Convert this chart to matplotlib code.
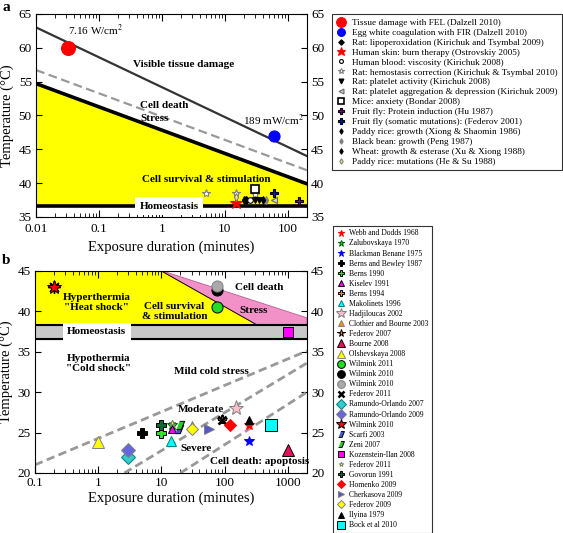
import numpy as np
import matplotlib
matplotlib.use("Agg")
import matplotlib.pyplot as plt

plt.rcParams['font.family'] = ['Liberation Serif', 'DejaVu Serif']
plt.rcParams['mathtext.fontset'] = 'stix'

# ---------------- panel a data ----------------
a_line_damage_x = [0.01, 200]
a_line_damage_y = [63.0, 44.0]
a_line_stress_x = [0.01, 200]
a_line_stress_y = [56.7, 41.9]
a_line_survival_x = [0.01, 200]
a_line_survival_y = [54.7, 39.9]
a_homeo = 36.6

# (label, x, y, marker, face, edge, size)
a_points = [
    ("Tissue damage with FEL (Dalzell 2010)", [0.032], [60.0], 'o', 'red', 'red', 10),
    ("Egg white coagulation with FIR (Dalzell 2010)", [60], [47.0], 'o', 'blue', 'blue', 8),
    ("Rat: lipoperoxidation (Kirichuk and Tsymbal 2009)", [22], [37.5], 'D', 'black', 'black', 4),
    ("Human skin: burn therapy (Ostrovskiy 2005)", [15], [37.0], '*', 'red', 'red', 9),
    ("Human blood: viscosity (Kirichuk 2008)", [25], [37.5], 'o', 'white', 'black', 4),
    ("Rat: hemostasis correction (Kirichuk & Tsymbal 2010)", [5, 15, 30], [38.5, 38.5, 38.4], '*', 'white', 'gray', 6),
    ("Rat: platelet activity (Kirichuk 2008)", [30, 35], [37.5, 37.5], 'v', 'black', 'black', 5),
    ("Rat: platelet aggregation & depression (Kirichuk 2009)", [60], [37.5], '<', 'lightgray', 'dimgray', 5),
    ("Mice: anxiety (Bondar 2008)", [30], [39.2], 's', 'white', 'black', 6),
    ("Fruit fly: Protein induction (Hu 1987)", [150], [37.4], 'P', 'purple', 'black', 6),
    ("Fruit fly (somatic mutations): (Federov 2001)", [60], [38.5], 'P', 'blue', 'black', 6),
    ("Paddy rice: growth (Xiong & Shaomin 1986)", [20], [37.5], 'd', 'black', 'black', 4),
    ("Black bean: growth (Peng 1987)", [45], [37.5], 'd', 'gray', 'gray', 4),
    ("Wheat: growth & esterase (Xu & Xiong 1988)", [40], [37.5], 'd', 'black', 'black', 4),
    ("Paddy rice: mutations (He & Su 1988)", [15], [37.9], 'd', 'khaki', 'gray', 4),
]

# ---------------- panel b data ----------------
b_yellow_x = [0.1, 10, 330, 0.1]
b_yellow_y = [45, 45, 38.3, 38.3]
b_pink_x = [10, 10.5, 2000, 2000, 330]
b_pink_y = [45, 45, 39.2, 38.3, 38.3]
b_band = [36.6, 38.3]
b_cold_lines = [([0.1, 2000], [21.0, 35.1]),
                ([2.6, 2000], [20.0, 33.6]),
                ([20, 2000], [20.0, 30.0])]

para = [(-1, -1), (0.2, -1), (1, 1), (-0.2, 1)]
b_points = [
    ("Webb and Dodds 1968", [240], [26.0], '*', 'red', 'red', 7),
    ("Zalubovskaya 1970", [15], [26.0], '*', 'limegreen', 'darkgreen', 7),
    ("Blackman Benane 1975", [240], [24.0], '*', 'blue', 'blue', 7),
    ("Berns and Bewley 1987", [5], [25.0], 'P', 'black', 'black', 7),
    ("Berns 1990", [10], [25.0], 'P', '#33dd33', 'black', 7),
    ("Kiselev 1991", [15], [25.5], '^', 'magenta', 'black', 6),
    ("Berns 1994", [90], [26.7], 'P', 'darkorange', 'black', 6),
    ("Makolinets 1996", [14], [23.9], '^', 'cyan', 'teal', 7),
    ("Hadjiloucas 2002", [150], [28.0], '*', 'pink', 'gray', 11),
    ("Clothier and Bourne 2003", [30], [26.0], '^', 'darkorange', 'gray', 6),
    ("Federov 2007", [90], [26.6], '*', 'darkorange', 'black', 8),
    ("Bourne 2008", [1000], [22.8], '^', '#e8105a', 'black', 9),
    ("Olshevskaya 2008", [1], [23.8], '^', 'yellow', 'gray', 9),
    ("Wilmink 2011", [77], [40.6], 'o', '#22dd22', 'black', 8),
    ("Wilmink 2010", [77], [42.6], 'o', 'black', 'black', 8),
    ("Wilmink 2010", [77], [43.1], 'o', 'darkgray', 'gray', 8),
    ("Federov 2011", [90], [26.6], 'x', 'black', 'black', 6),
    ("Ramundo-Orlando 2007", [3], [22.0], 'D', '#33cccc', 'teal', 7),
    ("Ramundo-Orlando 2009", [3], [22.9], 'D', '#6666dd', 'gray', 7),
    ("Wilmink 2010", [0.2], [43.0], '*', 'red', 'black', 10),
    ("Scarfi 2003", [19], [25.4], para, '#4455cc', 'black', 6),
    ("Zeni 2007", [20], [26.0], para, '#22cc22', 'black', 6),
    ("Kozenstein-Ilan 2008", [1000], [37.4], 's', 'magenta', 'black', 7),
    ("Federov 2011", [15], [26.2], '*', 'yellow', 'gray', 5),
    ("Govorun 1991", [10], [26.0], 'P', '#116633', 'black', 7),
    ("Homenko 2009", [120], [26.0], 'D', 'red', 'red', 6),
    ("Cherkasova 2009", [57], [25.4], '>', '#5555cc', 'gray', 7),
    ("Federov 2009", [30], [25.4], 'D', 'yellow', 'gray', 6),
    ("Ilyina 1979", [240], [26.6], '^', 'black', 'black', 6),
    ("Bock et al 2010", [540], [26.0], 's', 'cyan', 'black', 8),
]

fig = plt.figure(figsize=(5.63, 5.33), dpi=100)
axa = fig.add_axes([0.064, 0.593, 0.481, 0.381])
axb = fig.add_axes([0.062, 0.1126, 0.483, 0.379])

tick_fs = 9.5
lab_fs = 10.5

def style_axis(ax, xpad=3, xlabpad=2):
    ax.set_xscale('log')
    ax.tick_params(axis='both', which='both', direction='in', top=True, right=True,
                   labelright=True, labelsize=tick_fs)
    ax.tick_params(axis='x', which='major', length=5, pad=xpad)
    ax.tick_params(axis='x', which='minor', length=3)
    ax.tick_params(axis='y', which='major', length=4, pad=3)
    ax.xaxis.set_major_formatter(matplotlib.ticker.FuncFormatter(lambda v, p: ('%g' % v)))
    ax.set_xlabel('Exposure duration (minutes)', fontsize=lab_fs, labelpad=xlabpad)
    ax.set_ylabel('Temperature (°C)', fontsize=lab_fs, labelpad=3)

# ---------------- panel a ----------------
style_axis(axa, xpad=4.5, xlabpad=4)
axa.set_xlim(0.01, 200)
axa.set_ylim(35, 65)
axa.set_yticks(np.arange(35, 66, 5))
xx = np.array(a_line_survival_x)
axa.fill_between(xx, a_homeo, a_line_survival_y, color='#ffff00', zorder=1)
axa.plot(a_line_damage_x, a_line_damage_y, color='#333333', lw=1.6, zorder=2)
axa.plot(a_line_stress_x, a_line_stress_y, color='#999999', lw=1.6, ls=(0, (4, 2)), zorder=2)
axa.plot(a_line_survival_x, a_line_survival_y, color='black', lw=2.6, zorder=2)
axa.axhline(a_homeo, color='black', lw=2.6, zorder=2)

bold = dict(fontsize=8, fontweight='bold')
axa.text(1.3, 36.6, 'Homeostasis', ha='center', va='center', zorder=3,
         bbox=dict(facecolor='white', edgecolor='none', pad=3.0), **bold)
axa.text(2.2, 57.5, 'Visible tissue damage', ha='center', va='center', **bold)
axa.text(0.45, 51.5, 'Cell death', ha='left', va='center', **bold)
axa.text(0.45, 49.5, 'Stress', ha='left', va='center', **bold)
axa.text(0.48, 40.6, 'Cell survival & stimulation', ha='left', va='center', **bold)
axa.text(0.032, 61.5, '7.16 W/cm$^2$', ha='left', va='bottom', fontsize=8)
axa.text(60, 48.2, '189 mW/cm$^2$', ha='center', va='bottom', fontsize=8)

for lab, x, y, m, fc, ec, s in a_points:
    axa.plot(x, y, ls='none', marker=m, markerfacecolor=fc, markeredgecolor=ec,
             markersize=s, markeredgewidth=1.2 if m == 's' else 0.8, label=lab, zorder=4)

leg_a = axa.legend(loc='upper left', bbox_to_anchor=(0.590, 0.974), bbox_transform=fig.transFigure,
                   fontsize=6.7, frameon=True, fancybox=False, edgecolor='black',
                   handlelength=1.0, handletextpad=0.6, labelspacing=0.15, borderpad=0.5,
                   markerscale=0.7, borderaxespad=0)
leg_a.get_frame().set_linewidth(0.8)

# ---------------- panel b ----------------
style_axis(axb)
axb.set_xlim(0.1, 2000)
axb.set_ylim(20, 45)
axb.set_yticks(np.arange(20, 46, 5))
axb.fill(b_yellow_x, b_yellow_y, color='#ffff00', lw=0, zorder=1)
axb.fill(b_pink_x, b_pink_y, facecolor='#f291c8', edgecolor='#b85f95', lw=0.6, zorder=1)
axb.plot(b_yellow_x[1:3], b_yellow_y[1:3], color='black', lw=0.6, zorder=1.5)
axb.axhspan(b_band[0], b_band[1], color='#c8c8c8', zorder=1)
axb.axhline(b_band[0], color='black', lw=1.5, zorder=2)
axb.axhline(b_band[1], color='black', lw=1.5, zorder=2)
for lx, ly in b_cold_lines:
    axb.plot(lx, ly, color='#999999', lw=2, ls=(0, (3, 1.6)), zorder=2)

axb.text(0.95, 37.45, 'Homeostasis', ha='center', va='center', zorder=3,
         bbox=dict(facecolor='white', edgecolor='none', pad=3.0), **bold)
axb.text(0.95, 41.1, 'Hyperthermia\n"Heat shock"', ha='center', va='center', linespacing=1.05, **bold)
axb.text(16, 40.0, 'Cell survival\n& stimulation', ha='center', va='center', linespacing=1.05, **bold)
axb.text(350, 43.0, 'Cell death', ha='center', va='center', **bold)
axb.text(290, 40.05, 'Stress', ha='center', va='center', **bold)
axb.text(1.0, 33.55, 'Hypothermia\n"Cold shock"', ha='center', va='center', linespacing=1.05, **bold)
axb.text(62, 32.6, 'Mild cold stress', ha='center', va='center', **bold)
axb.text(43, 27.9, 'Moderate', ha='center', va='center', **bold)
axb.text(35, 23.0, 'Severe', ha='center', va='center', **bold)
axb.text(360, 21.4, 'Cell death: apoptosis', ha='center', va='center', **bold)

for lab, x, y, m, fc, ec, s in b_points:
    axb.plot(x, y, ls='none', marker=m, markerfacecolor=fc, markeredgecolor=ec,
             markersize=s, markeredgewidth=0.7 if m != 'x' else 1.8, label=lab, zorder=4)
# black spikes on the Wilmink 2010 heat shock point
axb.plot([0.2], [43.0], ls='none', marker=(8, 2, 0), color='black', markersize=9,
         markeredgewidth=1.0, zorder=3.9)

leg_b = axb.legend(loc='upper left', bbox_to_anchor=(0.592, 0.576), bbox_transform=fig.transFigure,
                   fontsize=5.5, frameon=True, fancybox=False, edgecolor='black',
                   handlelength=1.0, handletextpad=0.6, labelspacing=0.27, borderpad=0.45,
                   markerscale=0.7, borderaxespad=0)
leg_b.get_frame().set_linewidth(0.8)

fig.text(0.004, 0.985, 'a', fontsize=11, fontweight='bold', ha='left', va='center')
fig.text(0.004, 0.512, 'b', fontsize=11, fontweight='bold', ha='left', va='center')

fig.savefig('out.png', dpi=100)
